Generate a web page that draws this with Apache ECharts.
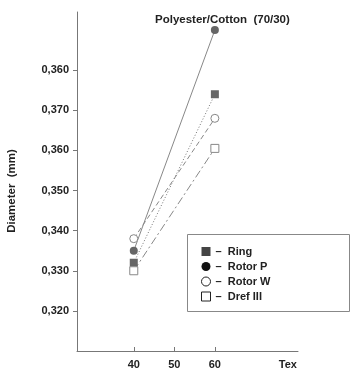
<!DOCTYPE html>
<html><head><meta charset="utf-8">
<script src="https://cdn.jsdelivr.net/npm/echarts@6/dist/echarts.min.js"></script>
<style>html,body{margin:0;padding:0;background:#fff}#c{width:350px;height:371px}</style>
</head><body><div id="c"></div>
<script>
const xValues = [40, 60];
const ring = [0.332, 0.374];
const rotorP = [0.335, 0.390];
const rotorW = [0.338, 0.368];
const dref = [0.330, 0.3605];
const yTicks = [0.32, 0.33, 0.34, 0.35, 0.36, 0.37, 0.38];
const yTickLabels = ['0,320', '0,330', '0,340', '0,350', '0,360', '0,370', '0,360'];
const xTicks = [40, 50, 60];
const xLabelValues = [40, 50, 60, 78];
const xLabelTexts = ['40', '50', '60', 'Tex'];

const F = 'Liberation Sans, Arial, sans-serif';
const pts = a => xValues.map((x, i) => [x, a[i]]);
const chart = echarts.init(document.getElementById('c'));
chart.setOption({
  backgroundColor: '#fff',
  animation: false,
  title: { text: 'Polyester/Cotton  (70/30)', left: 150, top: 9,
    textStyle: { fontFamily: F, fontSize: 11.5, fontWeight: 'bold', color: '#222' } },
  grid: { left: 77, right: 52, top: 12, bottom: 20 },
  xAxis: { type: 'value', min: 26, max: 80.5,
    axisLine: { lineStyle: { color: '#777', width: 1 } },
    axisTick: { show: true, inside: true, length: 4, customValues: xTicks, lineStyle: { color: '#777' } },
    axisLabel: { customValues: xLabelValues, margin: 8,
      formatter: v => xLabelTexts[xLabelValues.indexOf(v)] || '',
      fontFamily: F, fontSize: 11, fontWeight: 'bold', color: '#222' },
    splitLine: { show: false } },
  yAxis: { type: 'value', min: 0.31, max: 0.3945,
    axisLine: { show: true, lineStyle: { color: '#777', width: 1 } },
    axisTick: { show: true, length: 4, customValues: yTicks, lineStyle: { color: '#777' } },
    axisLabel: { customValues: yTicks, margin: 8,
      formatter: v => { const i = yTicks.findIndex(t => Math.abs(t - v) < 1e-6); return i >= 0 ? yTickLabels[i] : ''; },
      fontFamily: F, fontSize: 11, fontWeight: 'bold', color: '#222' },
    splitLine: { show: false } },
  graphic: [
    { type: 'rect', shape: { x: 187.5, y: 234.5, width: 162, height: 77 },
      style: { fill: '#fff', stroke: '#888', lineWidth: 1 }, z: 5 },
    { type: 'text', x: 12, y: 191, rotation: Math.PI / 2,
      style: { text: 'Diameter  (mm)', font: 'bold 11.5px Liberation Sans, Arial, sans-serif',
        fill: '#222', align: 'center', verticalAlign: 'middle' } }
  ],
  legend: { orient: 'vertical', left: 196, top: 241, itemGap: 4, itemWidth: 9, itemHeight: 9, z: 10,
    formatter: n => '–  ' + n,
    textStyle: { fontFamily: F, fontSize: 11, fontWeight: 'bold', color: '#222' },
    data: [
      { name: 'Ring', icon: 'rect', itemStyle: { color: '#444', borderWidth: 0 } },
      { name: 'Rotor P', icon: 'circle', itemStyle: { color: '#111', borderWidth: 0 } },
      { name: 'Rotor W', icon: 'circle', itemStyle: { color: '#fff', borderColor: '#222', borderWidth: 1 } },
      { name: 'Dref III', icon: 'rect', itemStyle: { color: '#fff', borderColor: '#222', borderWidth: 1 } }
    ] },
  series: [
    { name: 'Ring', type: 'line', data: pts(ring), symbol: 'rect', symbolSize: 8,
      itemStyle: { color: '#666' }, lineStyle: { color: '#777', width: 1, type: [1, 2] } },
    { name: 'Rotor P', type: 'line', data: pts(rotorP), symbol: 'circle', symbolSize: 8,
      itemStyle: { color: '#666' }, lineStyle: { color: '#888', width: 1, type: 'solid' } },
    { name: 'Rotor W', type: 'line', data: pts(rotorW), symbol: 'circle', symbolSize: 8,
      itemStyle: { color: '#fff', borderColor: '#888', borderWidth: 1 }, lineStyle: { color: '#888', width: 1, type: [5, 3] } },
    { name: 'Dref III', type: 'line', data: pts(dref), symbol: 'rect', symbolSize: 8,
      itemStyle: { color: '#fff', borderColor: '#888', borderWidth: 1 }, lineStyle: { color: '#888', width: 1, type: [8, 3, 2, 3] } }
  ]
});
</script></body></html>
